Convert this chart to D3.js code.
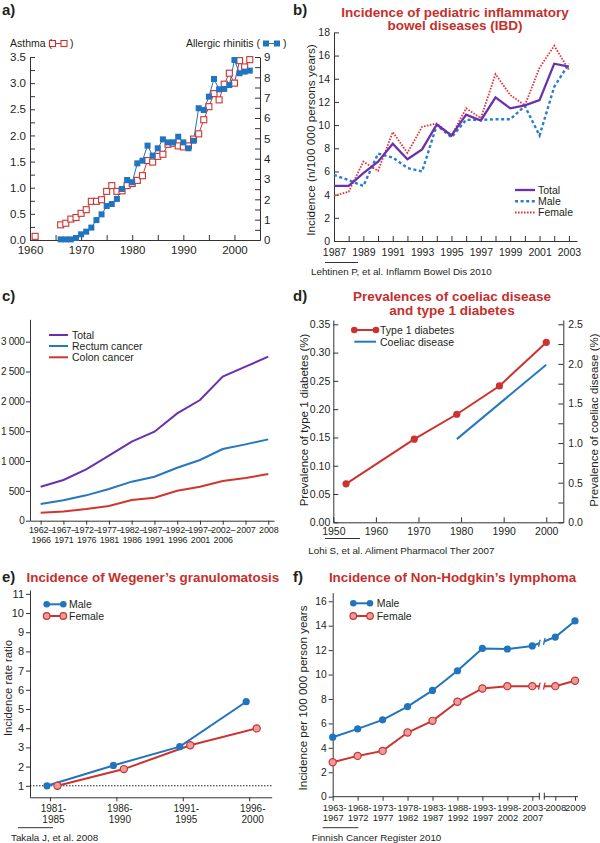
<!DOCTYPE html>
<html><head><meta charset="utf-8">
<script src="https://cdn.jsdelivr.net/npm/d3@7"></script>
<style>body{margin:0;background:#fff}svg{display:block}</style>
</head><body><script>
// ================= DATA =================
// a) Asthma & allergic rhinitis
const asthmaYears = [1961,1966,1967,1968,1969,1970,1971,1972,1973,1974,1975,1976,1977,1978,1979,1980,1981,1982,1983,1984,1985,1986,1987,1988,1989,1990,1991,1992,1993,1994,1995,1996,1997,1998,1999,2000,2001,2002,2003];
const asthmaValues = [0.07,0.29,0.32,0.40,0.43,0.51,0.58,0.74,0.74,0.77,0.93,1.04,0.93,0.94,1.04,1.08,1.14,1.23,1.52,1.49,1.60,1.64,1.83,1.85,1.80,1.78,1.80,1.93,2.03,2.30,2.55,2.80,2.68,2.98,3.19,3.00,3.43,3.31,3.45];
const rhinitisYears = [1966,1967,1968,1969,1970,1971,1972,1973,1974,1975,1976,1977,1978,1979,1980,1981,1982,1983,1984,1985,1986,1987,1988,1989,1990,1991,1992,1993,1994,1995,1996,1997,1998,1999,2000,2001,2002,2003];
const rhinitisValues = [0.03,0.03,0.03,0.10,0.28,0.41,0.61,0.98,1.26,1.67,1.77,2.02,2.51,2.95,2.84,3.77,3.90,4.64,4.15,4.51,4.95,4.80,4.80,5.08,4.80,4.51,4.88,6.48,6.39,7.05,7.92,7.41,7.43,7.62,8.85,8.20,8.28,8.33];

// b) Pediatric IBD
const ibdYears = [1987,1988,1989,1990,1991,1992,1993,1994,1995,1996,1997,1998,1999,2000,2001,2002,2003];
const ibdTotal = [4.75,4.75,5.85,6.85,8.4,7.05,7.9,10.05,9.1,10.9,10.4,12.4,11.45,11.7,12.15,15.3,15.05];
const ibdMale = [5.7,5.25,4.75,7.55,7.2,6.3,6.0,10.0,8.95,10.45,10.45,10.5,10.5,11.65,9.1,13.3,15.3];
const ibdFemale = [3.9,4.25,6.85,6.05,9.4,7.6,9.85,10.15,9.1,11.45,10.6,14.4,12.6,11.7,14.95,16.85,14.75];

// c) Colorectal cancer
const crcPeriods = ["1962–1966","1967–1971","1972–1976","1977–1981","1982–1986","1987–1991","1992–1996","1997–2001","2002–2006","2007","2008"];
const crcTotal = [570,682,860,1089,1324,1492,1799,2022,2414,2581,2749];
const crcRectum = [279,341,425,531,654,737,888,1017,1201,1279,1363];
const crcColon = [134,156,196,246,346,385,503,570,665,715,782];
const crcTicks = [0,500,1000,1500,2000,2500,3000];

// d) Coeliac disease & type 1 diabetes
const t1dYears = [1953,1969,1979,1989,2000];
const t1dValues = [0.068,0.147,0.191,0.241,0.318];
const coeliacYears = [1979,2000];
const coeliacValues = [1.05,1.99];

// e) Wegener's granulomatosis
const wegPeriods = ["1981-1985","1986-1990","1991-1995","1996-2000"];
const wegMale = [1.0,2.06,3.04,5.38];
const wegFemale = [1.0,1.87,3.11,3.99];

// f) Non-Hodgkin's lymphoma
const nhlStart = [1963,1968,1973,1978,1983,1988,1993,1998,2003,2008,2009];
const nhlLabelTop = ["1963-","1968-","1973-","1978-","1983-","1988-","1993-","1998-","2003-","2008","2009"];
const nhlLabelBottom = ["1967","1972","1977","1982","1987","1992","1997","2002","2007","",""];
const nhlMale = [4.87,5.55,6.29,7.38,8.70,10.31,12.14,12.09,12.34,13.07,14.39];
const nhlFemale = [2.82,3.34,3.75,5.25,6.21,7.77,8.86,9.05,9.05,9.05,9.49];

// ================= STYLE =================
const F = '"Liberation Sans", Arial, Helvetica, sans-serif';
const TXT = '#231f20', AX = '#333', TITLE = '#c4302c';
const BLUE = '#2174be', RED = '#cc3330', PURPLE = '#6b30ae', PINK = '#e89d9d';

const svg = d3.select('body').append('svg').attr('width',600).attr('height',843);

function txt(x,y,s,o={}){
  const t = svg.append('text').attr('x',x).attr('y',y).text(s)
    .attr('font-family',F).attr('font-size',o.size||11).attr('fill',o.fill||TXT)
    .attr('text-anchor',o.anchor||'start').attr('font-weight',o.weight||'normal');
  if(o.rotate) t.attr('transform',`rotate(${o.rotate},${x},${y})`);
  return t;
}
function axisStyle(g,size){
  g.attr('font-family',F).attr('font-size',size);
  g.selectAll('path,line').attr('stroke',AX).attr('stroke-width',1);
  g.selectAll('text').attr('fill',TXT);
}
function rule(x1,x2,y){ svg.append('line').attr('x1',x1).attr('x2',x2).attr('y1',y).attr('y2',y).attr('stroke',AX).attr('stroke-width',1); }
const zip = (xs,ys)=>xs.map((x,i)=>[x,ys[i]]);

// ================= PANEL A =================
{
  const x = d3.scaleLinear([1960,2005],[30,260]);
  const y = d3.scaleLinear([0,3.5],[240,57]);
  const y2 = d3.scaleLinear([0,9],[240,57]);
  svg.append('g').attr('transform','translate(30,0)')
    .call(d3.axisLeft(y).tickValues(d3.range(0,3.51,0.25)).tickSizeInner(-5).tickSizeOuter(0).tickPadding(4)
      .tickFormat(d=>Math.abs(d*2-Math.round(d*2))<1e-6?d3.format('.1f')(d):''))
    .call(axisStyle,11.5);
  svg.append('g').attr('transform','translate(260,0)')
    .call(d3.axisRight(y2).tickValues(d3.range(0,9.01,0.5)).tickSizeInner(-5).tickSizeOuter(0).tickPadding(4)
      .tickFormat(d=>Number.isInteger(d)?d:''))
    .call(axisStyle,11.5);
  svg.append('g').attr('transform','translate(0,240)')
    .call(d3.axisBottom(x).tickValues(d3.range(1960,2006,5)).tickSizeInner(-5).tickSizeOuter(0).tickPadding(6)
      .tickFormat(d=>d%10===0?d:''))
    .call(axisStyle,11.5);

  const asthma = zip(asthmaYears,asthmaValues);
  const rhin = zip(rhinitisYears,rhinitisValues);
  const la = d3.line().x(d=>x(d[0])).y(d=>y(d[1]));
  const lr = d3.line().x(d=>x(d[0])).y(d=>y2(d[1]));
  svg.append('path').attr('d',la(asthma.filter(d=>d[0]>=1966))).attr('fill','none').attr('stroke',RED).attr('stroke-width',1);
  svg.append('path').attr('d',lr(rhin)).attr('fill','none').attr('stroke',BLUE).attr('stroke-width',1);
  svg.append('g').selectAll('rect').data(asthma).join('rect')
    .attr('x',d=>x(d[0])-3).attr('y',d=>y(d[1])-3).attr('width',6).attr('height',6)
    .attr('fill','#fff').attr('stroke',RED).attr('stroke-width',1.1);
  svg.append('g').selectAll('rect').data(rhin).join('rect')
    .attr('x',d=>x(d[0])-3).attr('y',d=>y2(d[1])-3).attr('width',6).attr('height',6)
    .attr('fill',BLUE);

  txt(2,15,'a)',{size:15,weight:'bold'});
  txt(10,47,'Asthma (',{size:10.5});
  svg.append('line').attr('x1',52.5).attr('x2',64).attr('y1',43.5).attr('y2',43.5).attr('stroke',RED);
  [52.5,64].forEach(cx=>svg.append('rect').attr('x',cx-3).attr('y',40.5).attr('width',6).attr('height',6).attr('fill','#fff').attr('stroke',RED).attr('stroke-width',1.1));
  txt(70,47,')',{size:10.5});
  txt(260,47,'Allergic rhinitis (',{size:10.5,anchor:'end'});
  svg.append('line').attr('x1',266).attr('x2',277).attr('y1',43.5).attr('y2',43.5).attr('stroke',BLUE);
  [266,277].forEach(cx=>svg.append('rect').attr('x',cx-3).attr('y',40.5).attr('width',6).attr('height',6).attr('fill',BLUE));
  txt(283,47,')',{size:10.5});
}

// ================= PANEL B =================
{
  const x = d3.scaleLinear([1987,2003.55],[334,577]);
  const y = d3.scaleLinear([0,18],[241,32.4]);
  svg.append('g').attr('transform','translate(334,0)')
    .call(d3.axisLeft(y).tickValues(d3.range(0,19,2)).tickSizeInner(-5).tickSizeOuter(0).tickPadding(4))
    .call(axisStyle,10.5);
  svg.append('g').attr('transform','translate(0,241)')
    .call(d3.axisBottom(x).tickValues(d3.range(1987,2004)).tickSizeInner(-5).tickSizeOuter(0).tickPadding(8)
      .tickFormat(d=>d%2===1?d:''))
    .call(axisStyle,10.5);
  const line = d3.line().x(d=>x(d[0])).y(d=>y(d[1]));
  svg.append('path').attr('d',line(zip(ibdYears,ibdFemale))).attr('fill','none').attr('stroke','#e0383a').attr('stroke-width',1.8).attr('stroke-dasharray','1.6,1.4');
  svg.append('path').attr('d',line(zip(ibdYears,ibdMale))).attr('fill','none').attr('stroke','#2a7dcc').attr('stroke-width',2.4).attr('stroke-dasharray','3,2.6');
  svg.append('path').attr('d',line(zip(ibdYears,ibdTotal))).attr('fill','none').attr('stroke',PURPLE).attr('stroke-width',2.3);

  txt(293,15,'b)',{size:15,weight:'bold'});
  txt(455,16.5,'Incidence of pediatric inflammatory',{size:13.5,weight:'bold',fill:TITLE,anchor:'middle'});
  txt(455,30,'bowel diseases (IBD)',{size:13.5,weight:'bold',fill:TITLE,anchor:'middle'});
  txt(315,140,'Incidence (n/100 000 persons years)',{size:11.8,anchor:'middle',rotate:-90});
  const leg = [['Total',PURPLE,null,2.3,190],['Male','#2a7dcc','3,2.6',2.4,201.3],['Female','#e0383a','1.6,1.4',1.8,212.5]];
  leg.forEach(([n,c,da,w,ly])=>{
    const l = svg.append('line').attr('x1',515).attr('x2',535).attr('y1',ly).attr('y2',ly).attr('stroke',c).attr('stroke-width',w);
    if(da) l.attr('stroke-dasharray',da);
    txt(538,ly+3.8,n,{size:10.5});
  });
  rule(325,358,262.5);
  txt(311,274.5,'Lehtinen P, et al. Inflamm Bowel Dis 2010',{size:9.8});
}

// ================= PANEL C =================
{
  const x = d3.scalePoint(crcPeriods,[30,274]).padding(0.36).align(0.65);
  const y = d3.scaleLinear([0,3375],[520.7,319.3]);
  const gy = svg.append('g').attr('transform','translate(30,0)')
    .call(d3.axisLeft(y).tickValues(crcTicks).tickSizeInner(4).tickSizeOuter(0).tickPadding(1.5)
      .tickFormat(d=>d>=1000?`${Math.floor(d/1000)} ${String(d%1000).padStart(3,'0')}`:String(d)))
    .call(axisStyle,10);
  gy.selectAll('.tick text').attr('letter-spacing',-0.3);
  const gx = svg.append('g').attr('transform','translate(0,520.7)')
    .call(d3.axisBottom(x).tickSizeInner(4).tickSizeOuter(0).tickPadding(2))
    .call(axisStyle,9);
  gx.selectAll('.tick text').each(function(d){
    const t = d3.select(this); t.text(null).attr('dy',null).attr('y',12.8).attr('letter-spacing',-0.15);
    const parts = d.includes('–') ? [d.split('–')[0]+'–', d.split('–')[1]] : [d];
    parts.forEach((p,i)=>t.append('tspan').attr('x',0).attr('dy',i===0?0:9.6).text(p));
  });
  const line = d3.line().x((d,i)=>x(crcPeriods[i])).y(d=>y(d));
  [[crcTotal,PURPLE],[crcRectum,'#2677c0'],[crcColon,'#d0362c']].forEach(([s,c])=>
    svg.append('path').attr('d',line(s)).attr('fill','none').attr('stroke',c).attr('stroke-width',2));
  txt(2,301,'c)',{size:15,weight:'bold'});
  [['Total',PURPLE,335],['Rectum cancer','#2677c0',346],['Colon cancer','#d0362c',357.3]].forEach(([n,c,ly])=>{
    svg.append('line').attr('x1',49).attr('x2',68).attr('y1',ly).attr('y2',ly).attr('stroke',c).attr('stroke-width',2);
    txt(72,ly+3.8,n,{size:10.5});
  });
}

// ================= PANEL D =================
{
  const x = d3.scaleLinear([1950,2004],[333.3,563.3]);
  const y = d3.scaleLinear([0,0.3576],[522.3,320]);
  const y2 = d3.scaleLinear([0,2.554],[522.3,320]);
  svg.append('g').attr('transform','translate(333.3,0)')
    .call(d3.axisLeft(y).tickValues(d3.range(0,0.351,0.05)).tickSizeInner(-5).tickSizeOuter(0).tickPadding(3).tickFormat(d3.format('.2f')))
    .call(axisStyle,10.5);
  svg.append('g').attr('transform','translate(563.3,0)')
    .call(d3.axisRight(y2).tickValues(d3.range(0,2.51,0.25)).tickSizeInner(-5).tickSizeOuter(0).tickPadding(5)
      .tickFormat(d=>Math.abs(d*2-Math.round(d*2))<1e-6?d3.format('.1f')(d):''))
    .call(axisStyle,10.5);
  svg.append('g').attr('transform','translate(0,522.3)')
    .call(d3.axisBottom(x).tickValues(d3.range(1950,2001,10)).tickSizeInner(-5).tickSizeOuter(0).tickPadding(5.5).tickFormat(d3.format('d')))
    .call(axisStyle,10.5);
  const t1d = zip(t1dYears,t1dValues);
  const cd = zip(coeliacYears,coeliacValues);
  svg.append('path').attr('d',d3.line().x(d=>x(d[0])).y(d=>y2(d[1]))(cd)).attr('fill','none').attr('stroke','#2677c0').attr('stroke-width',2);
  svg.append('path').attr('d',d3.line().x(d=>x(d[0])).y(d=>y(d[1]))(t1d)).attr('fill','none').attr('stroke',RED).attr('stroke-width',2);
  svg.append('g').selectAll('circle').data(t1d).join('circle').attr('cx',d=>x(d[0])).attr('cy',d=>y(d[1])).attr('r',3.6).attr('fill',RED);

  txt(293,301,'d)',{size:15,weight:'bold'});
  txt(452,301,'Prevalences of coeliac disease',{size:13.5,weight:'bold',fill:TITLE,anchor:'middle'});
  txt(452,314.5,'and type 1 diabetes',{size:13.5,weight:'bold',fill:TITLE,anchor:'middle'});
  txt(308,420,'Prevalence of type 1 diabetes (%)',{size:11.5,anchor:'middle',rotate:-90});
  txt(597.5,420,'Prevalence of coeliac disease (%)',{size:11.5,anchor:'middle',rotate:-90});
  svg.append('line').attr('x1',354.3).attr('x2',376).attr('y1',330).attr('y2',330).attr('stroke',RED).attr('stroke-width',2);
  [354.3,376].forEach(cx=>svg.append('circle').attr('cx',cx).attr('cy',330).attr('r',3.3).attr('fill',RED));
  txt(380,333.8,'Type 1 diabetes',{size:10.5});
  svg.append('line').attr('x1',354.3).attr('x2',376).attr('y1',341.7).attr('y2',341.7).attr('stroke','#2677c0').attr('stroke-width',2);
  txt(380,345.5,'Coeliac disease',{size:10.5});
  rule(325,360,538.5);
  txt(308.3,554,'Lohi S, et al. Aliment Pharmacol Ther 2007',{size:9.8});
}

// ================= PANEL E =================
{
  const x = d3.scalePoint(wegPeriods,[30,271.7]).padding(0.32).align(0.47);
  const y = d3.scaleLinear([0.4,11.2],[797.3,590]);
  svg.append('g').attr('transform','translate(30,0)')
    .call(d3.axisLeft(y).tickValues(d3.range(1,12)).tickSizeInner(4).tickSizeOuter(0).tickPadding(2))
    .call(axisStyle,11);
  const gx = svg.append('g').attr('transform','translate(0,797.3)')
    .call(d3.axisBottom(x).tickSizeInner(4).tickSizeOuter(0).tickPadding(2))
    .call(axisStyle,10);
  gx.selectAll('.tick text').each(function(d){
    const t = d3.select(this); t.text(null).attr('dy',null).attr('y',15);
    const [a,b] = d.split('-');
    t.append('tspan').attr('x',3).attr('dy',0).text(a+'-');
    t.append('tspan').attr('x',3).attr('dy',10.5).text(b);
  });
  svg.append('line').attr('x1',30).attr('x2',271.7).attr('y1',y(1)).attr('y2',y(1)).attr('stroke','#222').attr('stroke-width',1).attr('stroke-dasharray','1.5,1.5');
  const mx = p=>x(p)-3, fx = p=>x(p)+7.5;
  const male = wegPeriods.map((p,i)=>[p,wegMale[i]]);
  const fem = wegPeriods.map((p,i)=>[p,wegFemale[i]]);
  svg.append('path').attr('d',d3.line().x(d=>fx(d[0])).y(d=>y(d[1]))(fem)).attr('fill','none').attr('stroke',RED).attr('stroke-width',2);
  svg.append('path').attr('d',d3.line().x(d=>mx(d[0])).y(d=>y(d[1]))(male)).attr('fill','none').attr('stroke',BLUE).attr('stroke-width',2);
  svg.append('g').selectAll('circle').data(fem).join('circle').attr('cx',d=>fx(d[0])).attr('cy',d=>y(d[1])).attr('r',3.6).attr('fill',PINK).attr('stroke',RED).attr('stroke-width',1.2);
  svg.append('g').selectAll('circle').data(male).join('circle').attr('cx',d=>mx(d[0])).attr('cy',d=>y(d[1])).attr('r',3.6).attr('fill',BLUE);

  txt(2,582,'e)',{size:15,weight:'bold'});
  txt(26.5,582,'Incidence of Wegener’s granulomatosis',{size:13.4,weight:'bold',fill:TITLE});
  txt(11.5,688,'Incidence rate ratio',{size:11.3,anchor:'middle',rotate:-90});
  svg.append('line').attr('x1',46.7).attr('x2',63.3).attr('y1',604.3).attr('y2',604.3).attr('stroke',BLUE).attr('stroke-width',2);
  [46.7,63.3].forEach(cx=>svg.append('circle').attr('cx',cx).attr('cy',604.3).attr('r',3.3).attr('fill',BLUE));
  txt(69,608,'Male',{size:10.5});
  svg.append('line').attr('x1',46.7).attr('x2',63.3).attr('y1',616).attr('y2',616).attr('stroke',RED).attr('stroke-width',2);
  [46.7,63.3].forEach(cx=>svg.append('circle').attr('cx',cx).attr('cy',616).attr('r',3.3).attr('fill',PINK).attr('stroke',RED).attr('stroke-width',1.2));
  txt(69,619.8,'Female',{size:10.5});
  rule(18,53,827.7);
  txt(11,840.5,'Takala J, et al. 2008',{size:9.8});
}

// ================= PANEL F =================
{
  const x = d3.scaleLinear([1963,2003,2008,2009],[332.7,532.3,555.3,575]);
  const y = d3.scaleLinear([0,16.7],[796.7,592.7]);
  svg.append('g').attr('transform','translate(332.7,0)')
    .call(d3.axisLeft(y).tickValues(d3.range(0,17,2)).tickSizeInner(4).tickSizeOuter(0).tickPadding(2))
    .call(axisStyle,10.3);
  const gx = svg.append('g').attr('transform','translate(0,796.7)')
    .call(d3.axisBottom(x).tickValues(nhlStart).tickSizeInner(4).tickSizeOuter(0).tickPadding(2))
    .call(axisStyle,9.4);
  gx.select('.domain').attr('d','M332.7,0H578');
  gx.selectAll('.tick text').each(function(d){
    const i = nhlStart.indexOf(d);
    const t = d3.select(this); t.text(null).attr('dy',null).attr('y',14.3);
    t.append('tspan').attr('x',nhlLabelTop[i].endsWith('-')?1.5:0).attr('dy',0).text(nhlLabelTop[i]);
    if(nhlLabelBottom[i]) t.append('tspan').attr('x',0).attr('dy',10.2).text(nhlLabelBottom[i]);
  });
  const male = zip(nhlStart,nhlMale), fem = zip(nhlStart,nhlFemale);
  const line = d3.line().x(d=>x(d[0])).y(d=>y(d[1]));
  svg.append('path').attr('d',line(male)).attr('fill','none').attr('stroke',BLUE).attr('stroke-width',2);
  svg.append('path').attr('d',line(fem)).attr('fill','none').attr('stroke',RED).attr('stroke-width',2);
  // axis break
  svg.append('rect').attr('x',539.8).attr('y',595).attr('width',4).attr('height',204).attr('fill','#fff');
  [539.3,544.3].forEach(bx=>{
    svg.append('line').attr('x1',bx).attr('x2',bx).attr('y1',792.7).attr('y2',799.7).attr('stroke',AX);
    [[male,BLUE],[fem,RED]].forEach(([s,c])=>{
      const a = s[8], b = s[9];
      const t = (bx - x(a[0]))/(x(b[0])-x(a[0]));
      const yy = y(a[1] + t*(b[1]-a[1]));
      svg.append('line').attr('x1',bx-0.8).attr('x2',bx+0.8).attr('y1',yy+3.5).attr('y2',yy-3.5).attr('stroke',c).attr('stroke-width',1.3);
    });
  });
  svg.append('g').selectAll('circle').data(fem).join('circle').attr('cx',d=>x(d[0])).attr('cy',d=>y(d[1])).attr('r',3.6).attr('fill',PINK).attr('stroke',RED).attr('stroke-width',1.2);
  svg.append('g').selectAll('circle').data(male).join('circle').attr('cx',d=>x(d[0])).attr('cy',d=>y(d[1])).attr('r',3.6).attr('fill',BLUE);

  txt(293,582,'f)',{size:15,weight:'bold'});
  txt(452.5,582,'Incidence of Non-Hodgkin’s lymphoma',{size:13.4,weight:'bold',fill:TITLE,anchor:'middle'});
  txt(307,698,'Incidence per 100 000 person years',{size:11.6,anchor:'middle',rotate:-90});
  svg.append('line').attr('x1',353.3).attr('x2',370).attr('y1',603.3).attr('y2',603.3).attr('stroke',BLUE).attr('stroke-width',2);
  [353.3,370].forEach(cx=>svg.append('circle').attr('cx',cx).attr('cy',603.3).attr('r',3.3).attr('fill',BLUE));
  txt(376.7,607,'Male',{size:10.5});
  svg.append('line').attr('x1',353.3).attr('x2',370).attr('y1',616).attr('y2',616).attr('stroke',RED).attr('stroke-width',2);
  [353.3,370].forEach(cx=>svg.append('circle').attr('cx',cx).attr('cy',616).attr('r',3.3).attr('fill',PINK).attr('stroke',RED).attr('stroke-width',1.2));
  txt(376.7,619.8,'Female',{size:10.5});
  rule(322.7,358.3,827.7);
  txt(311.7,840.5,'Finnish Cancer Register 2010',{size:9.8});
}
</script></body></html>
